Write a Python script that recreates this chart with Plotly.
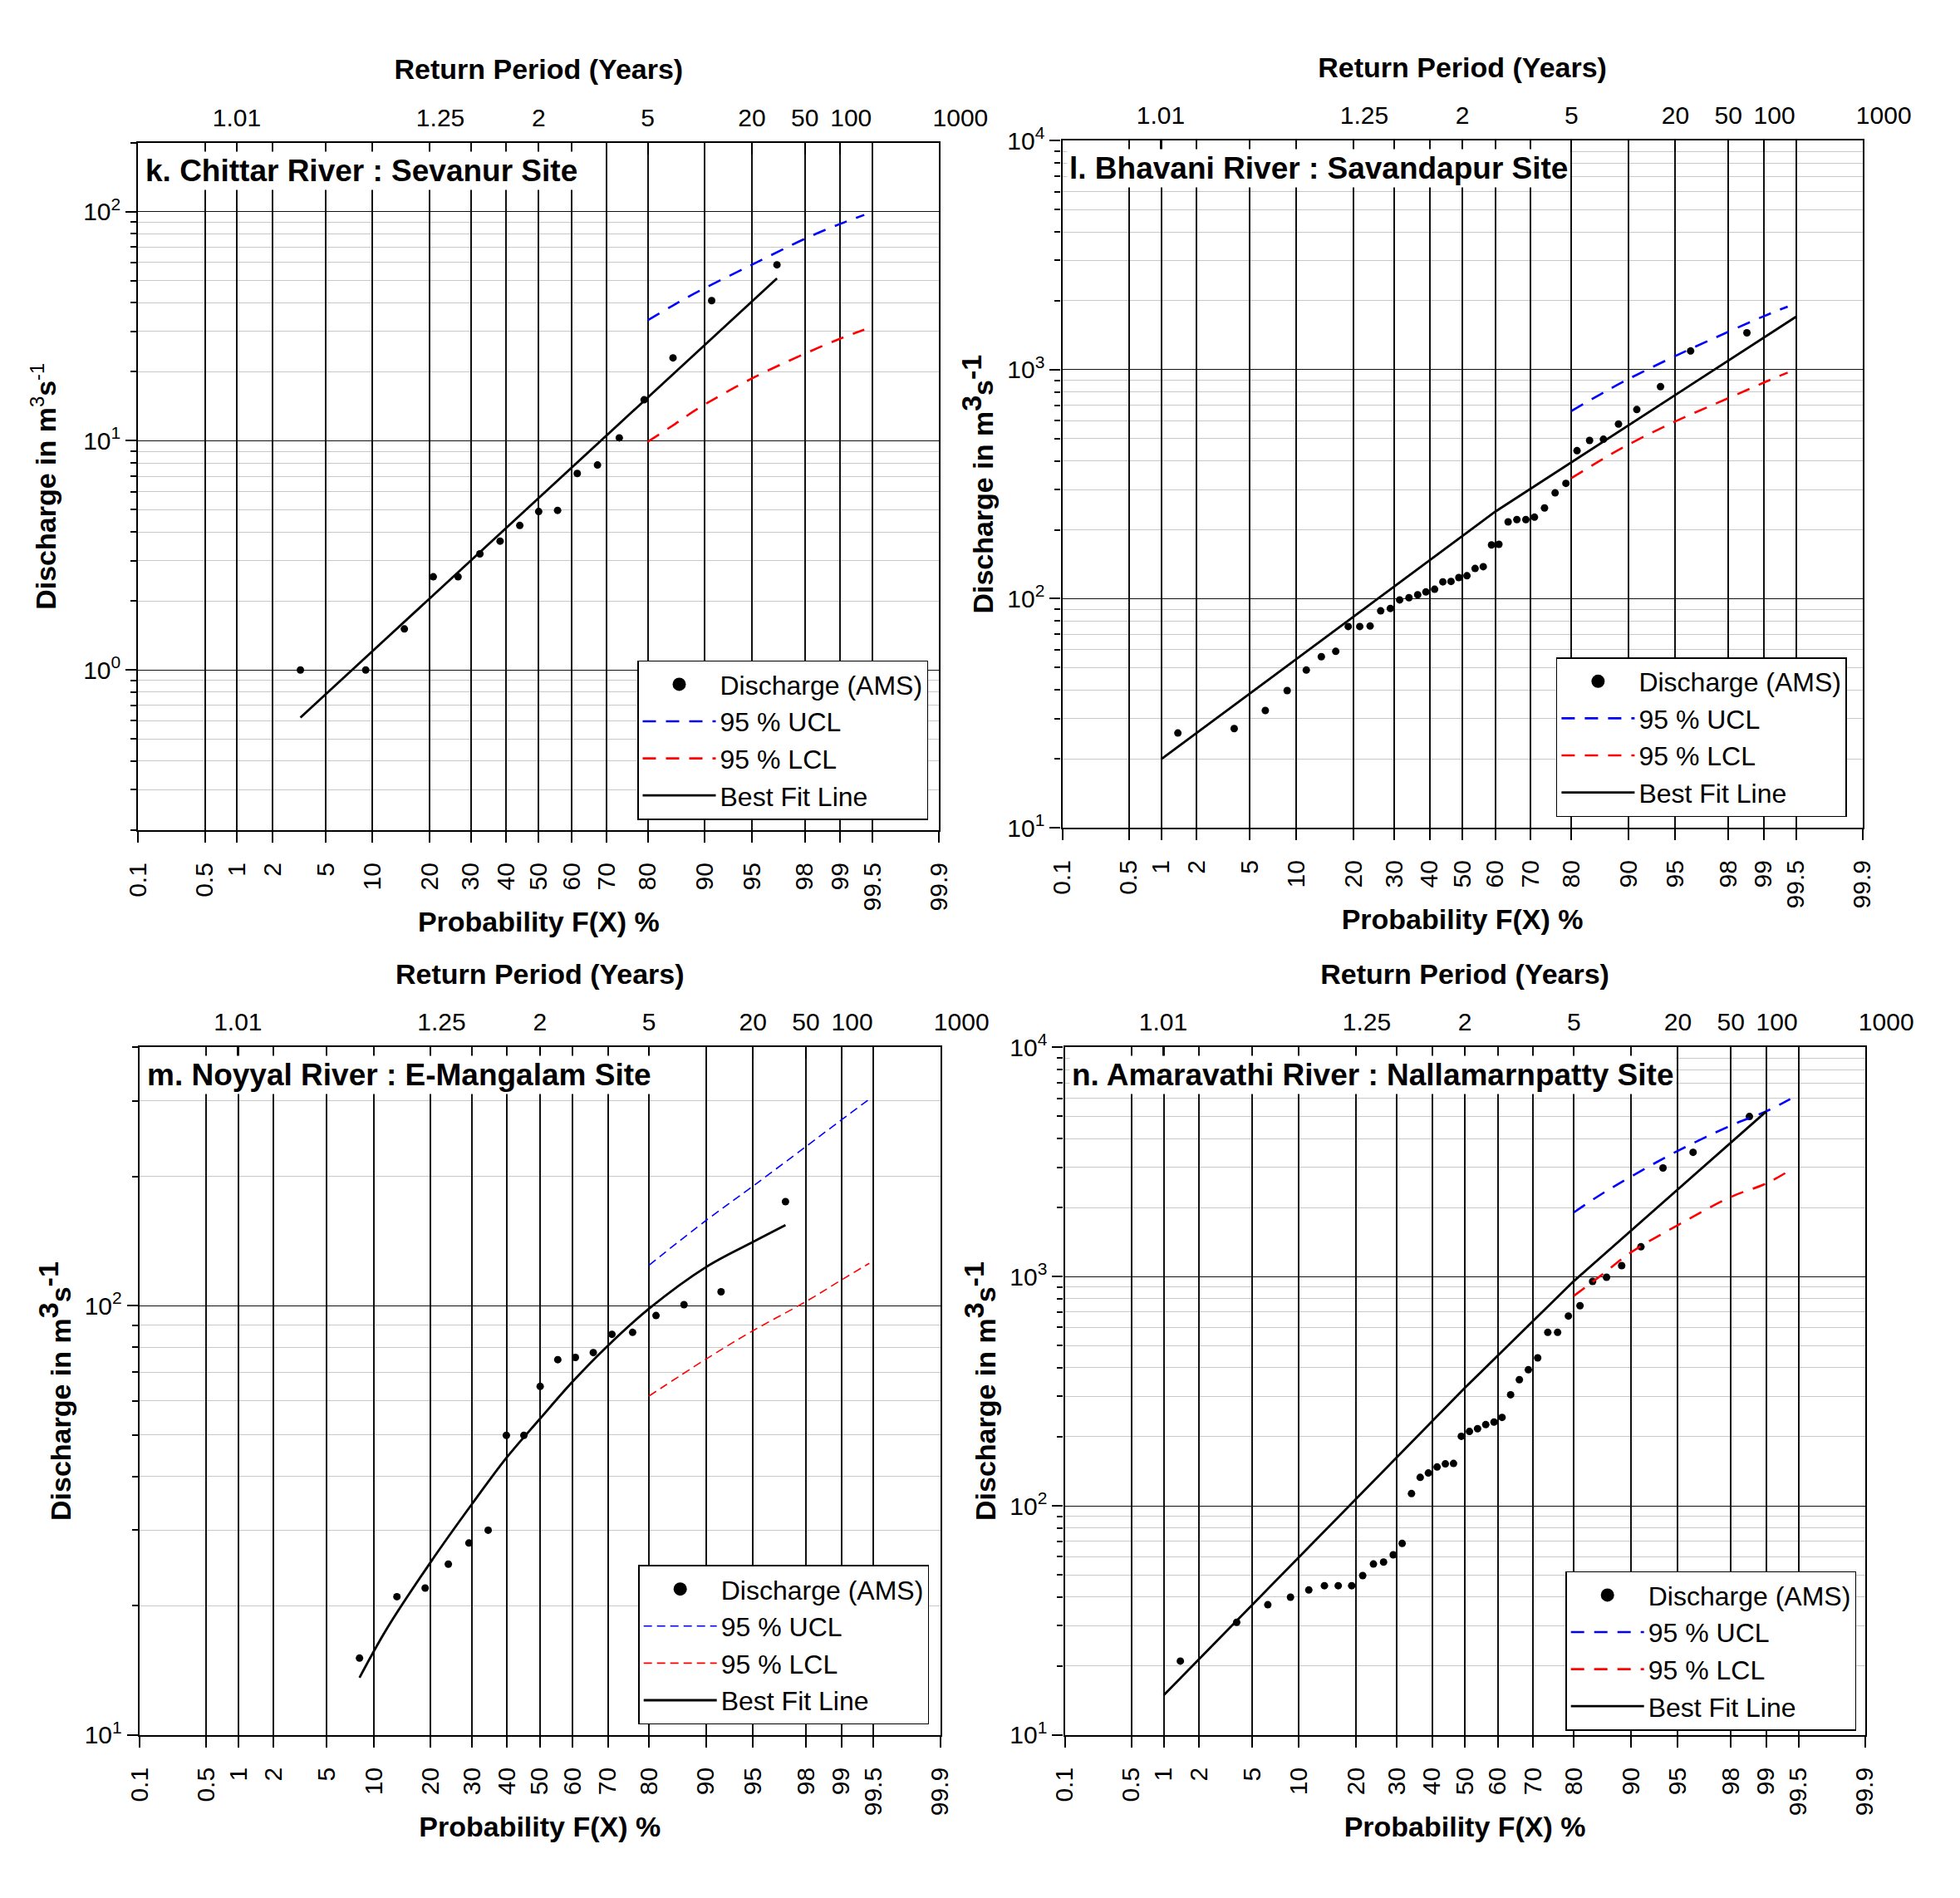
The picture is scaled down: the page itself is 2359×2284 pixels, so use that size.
import plotly.graph_objects as go
from statistics import NormalDist
import math

_nd = NormalDist()


def zq(p):
    """normal-probability-paper position of a non-exceedance probability in %"""
    return _nd.inv_cdf(p / 100.0)


FONT = "Arial, 'Liberation Sans', sans-serif"
W, H = 2359, 2284
OFF = 8                      # default page margin of the html body
FW, FH = W - 2 * OFF, H - 2 * OFF

# ---------------- tick labels ----------------
PROB_TICKS = [0.1, 0.5, 1, 2, 5, 10, 20, 30, 40, 50, 60, 70, 80, 90, 95, 98, 99, 99.5, 99.9]
PROB_LABELS = ["0.1", "0.5", "1", "2", "5", "10", "20", "30", "40", "50", "60", "70",
               "80", "90", "95", "98", "99", "99.5", "99.9"]
# return period (years) ticks: labels drawn centred on their tick ...
RP_TICKS_A = [1.01, 2, 5, 20, 50]
RP_LABELS_A = ["1.01", "2", "5", "20", "50"]
# ... and labels drawn slightly to the right of their tick, as in the original
RP_TICKS_B = [1.25, 100, 1000]
NB = "\u00a0"
RP_LABELS_B = ["1.25", "100", NB * 3 + "1000"]

# ---------------- k. Chittar River : Sevanur Site ----------------
k_F = [3.3, 9.1, 15.0, 20.8, 26.7, 32.5, 38.3, 44.2, 50.0, 55.8, 61.7, 67.5, 73.3, 79.2, 85.0, 90.9, 96.7]
k_Q = [1.0, 1.0, 1.51, 2.55, 2.55, 3.21, 3.65, 4.27, 4.91, 4.97, 7.2, 7.84, 10.3, 15.1, 23.0, 40.9, 58.6]
k_fit_F = [3.3, 96.7]
k_fit_Q = [0.62, 51.1]
k_ucl_F = [80, 84.4, 89, 95, 98, 99, 99.4]
k_ucl_Q = [33.6, 38.2, 44.7, 58.6, 76.1, 88.4, 96.7]
k_lcl_F = [80, 85.4, 89, 95, 98, 99, 99.4]
k_lcl_Q = [9.9, 11.85, 13.8, 18.7, 24.0, 27.9, 30.5]

# ---------------- l. Bhavani River : Savandapur Site ----------------
l_F = [1.4, 3.9, 6.4, 8.8, 11.4, 13.8, 16.4, 18.9, 21.4, 23.8, 26.4, 28.9, 31.4, 34.0, 36.5,
       38.9, 41.5, 44.0, 46.5, 48.9, 51.4, 53.9, 56.4, 58.9, 61.1, 63.8, 66.3, 68.8, 71.1, 73.7,
       76.3, 78.8, 81.2, 83.7, 86.2, 88.6, 91.1, 93.7, 96.1, 98.6]
l_Q = [25.9, 27.1, 32.5, 39.7, 48.8, 55.8, 58.9, 75.6, 75.6, 76.0, 88.5, 90.7, 98.8, 101, 104,
       107, 110, 118.5, 119, 123.7, 126, 135.5, 138, 171.8, 172.8, 216.5, 221.6, 221.6, 227, 249,
       290, 319, 443, 491, 497, 579, 670, 844, 1208, 1449]
l_fit_F = [1.0, 60, 99.5]
l_fit_Q = [19.9, 240, 1702]
l_ucl_F = [80, 89, 95, 98, 99, 99.4]
l_ucl_Q = [660, 877, 1148, 1465, 1712, 1887]
l_lcl_F = [80, 89, 95, 98, 99, 99.4]
l_lcl_Q = [336, 453, 595, 751, 878, 972]

# ---------------- m. Noyyal River : E-Mangalam Site ----------------
m_F = [8.2, 13.5, 18.8, 24.0, 29.2, 34.5, 39.8, 45.1, 50.1, 55.5, 60.8, 66.0, 71.1, 76.3, 81.5,
       86.7, 91.9, 97.1]
m_Q = [15.1, 21.0, 22.0, 25.0, 28.0, 30.0, 49.9, 49.9, 64.9, 74.9, 75.8, 77.8, 85.8, 86.7, 94.9,
       100.6, 107.8, 174.9]
m_fit_F = [8.2, 11.9, 20, 30, 40, 50, 60, 70, 80, 90, 95, 97.1]
m_fit_Q = [13.6, 17.7, 25.3, 34.5, 44.4, 54.5, 66.6, 80.7, 98.4, 123, 140.8, 154.1]
m_ucl_F = [80, 90, 95, 98, 99, 99.45]
m_ucl_Q = [124.3, 158, 190, 235, 271, 303]
m_lcl_F = [80, 90, 95, 98, 99, 99.45]
m_lcl_Q = [61.6, 75.1, 87.5, 102.3, 114.8, 125.6]

# ---------------- n. Amaravathi River : Nallamarnpatty Site ----------------
n_F = [1.4, 3.9, 6.4, 8.9, 11.4, 13.9, 16.4, 19.1, 21.5, 24.0, 26.5, 29.0, 31.4, 34.0, 36.5,
       38.9, 41.5, 44.0, 46.5, 48.9, 51.4, 53.9, 56.4, 58.9, 61.3, 63.8, 66.3, 68.8, 71.3, 73.9,
       76.3, 78.8, 81.3, 83.8, 86.3, 88.7, 91.3, 93.7, 96.1, 98.6]
n_Q = [21.0, 31.0, 37.0, 39.9, 42.9, 44.8, 44.8, 44.8, 49.6, 55.7, 56.8, 61.1, 68.5, 113, 133,
       139, 147.6, 152.3, 153, 201, 211, 217, 226, 232, 243, 305, 355, 392, 442, 571,
       571, 673, 746, 953, 993, 1116, 1349, 2978, 3486, 4993]
n_fit_F = [1.0, 50, 80, 99]
n_fit_Q = [14.9, 327, 956, 5246]
n_ucl_F = [80, 85.3, 90, 95, 98, 99, 99.4]
n_ucl_Q = [1905, 2280, 2728, 3537, 4560, 5261, 5948]
n_lcl_F = [80, 85.3, 90, 95, 98, 99, 99.4]
n_lcl_Q = [824, 1009, 1274, 1677, 2226, 2547, 2913]

TITLES = ["k. Chittar River : Sevanur Site",
          "l. Bhavani River : Savandapur Site",
          "m. Noyyal River : E-Mangalam Site",
          "n. Amaravathi River : Nallamarnpatty Site"]

SMALL_SUP = ("Discharge in m<sup><span style='font-weight:normal'>3</span></sup>"
             "s<sup><span style='font-weight:normal'>-1</span></sup>")
BIG_SUP = ("Discharge in m<sup><span style='font-size:34px'>3</span></sup>"
           "s<sup><span style='font-size:34px'>-1</span></sup>")

panels = [
    dict(F=k_F, Q=k_Q, fitF=k_fit_F, fitQ=k_fit_Q, uF=k_ucl_F, uQ=k_ucl_Q, lF=k_lcl_F, lQ=k_lcl_Q,
         yr=(0.2, 200), dec=[1, 10, 100], ytitle=SMALL_SUP, ystand=22, fitshape="linear", thin=False,
         xd=(166.3, 1130.4), yd=(171.6, 999.0), leg=(1117, 986.6)),
    dict(F=l_F, Q=l_Q, fitF=l_fit_F, fitQ=l_fit_Q, uF=l_ucl_F, uQ=l_ucl_Q, lF=l_lcl_F, lQ=l_lcl_Q,
         yr=(10, 10000), dec=[10, 100, 1000, 10000], ytitle=BIG_SUP, ystand=6, fitshape="linear",
         thin=False, xd=(1278.5, 2241.7), yd=(169.4, 996.0), leg=(2222.9, 983.0)),
    dict(F=m_F, Q=m_Q, fitF=m_fit_F, fitQ=m_fit_Q, uF=m_ucl_F, uQ=m_ucl_Q, lF=m_lcl_F, lQ=m_lcl_Q,
         yr=(10, 400), dec=[10, 100], ytitle=BIG_SUP, ystand=6, fitshape="spline", thin=True,
         xd=(167.8, 1131.7), yd=(1260.4, 2087.8), leg=(1118.2, 2075.4)),
    dict(F=n_F, Q=n_Q, fitF=n_fit_F, fitQ=n_fit_Q, uF=n_ucl_F, uQ=n_ucl_Q, lF=n_lcl_F, lQ=n_lcl_Q,
         yr=(10, 10000), dec=[10, 100, 1000, 10000], ytitle=BIG_SUP, ystand=6, fitshape="linear",
         thin=False, xd=(1281.5, 2244.7), yd=(1260.4, 2087.8), leg=(2234.2, 2082.6)),
]


def px_x(v):
    return (v - OFF) / FW


def px_y(v):
    return 1 - (v - OFF) / FH


fig = go.Figure()
layout = dict(
    width=FW, height=FH, autosize=False,
    margin=dict(l=0, r=0, t=0, b=0, pad=0),
    paper_bgcolor="white", plot_bgcolor="white",
    font=dict(family=FONT, size=30, color="black"),
    showlegend=True,
    annotations=[],
)

xr = [zq(0.1), zq(99.9)]
TICKFONT = dict(family=FONT, size=30, color="black")

for i, p in enumerate(panels, start=1):
    sfx = "" if i == 1 else str(i)
    xname, yname = "x" + sfx, "y" + sfx
    tname = "x" + str(i + 4)
    t2name = "x" + str(i + 8)
    legname = "legend" + sfx

    # data points
    fig.add_trace(go.Scatter(x=[zq(f) for f in p["F"]], y=p["Q"], mode="markers",
                             marker=dict(size=9, color="black"), showlegend=False,
                             xaxis=xname, yaxis=yname, name="Discharge (AMS)"))
    # legend proxy with larger symbol
    fig.add_trace(go.Scatter(x=[None], y=[None], mode="markers",
                             marker=dict(size=20, color="black"), name="Discharge (AMS)",
                             legend=legname, xaxis=xname, yaxis=yname))
    dw = 1.6 if p["thin"] else 2.6
    dpat = "10px,6px" if p["thin"] else "16px,12px"
    fig.add_trace(go.Scatter(x=[zq(f) for f in p["uF"]], y=p["uQ"], mode="lines",
                             line=dict(color="#0000ff", width=dw, dash=dpat, shape="spline"),
                             name="95 % UCL", legend=legname, xaxis=xname, yaxis=yname))
    fig.add_trace(go.Scatter(x=[zq(f) for f in p["lF"]], y=p["lQ"], mode="lines",
                             line=dict(color="#ff0000", width=dw, dash=dpat, shape="spline"),
                             name="95 % LCL", legend=legname, xaxis=xname, yaxis=yname))
    fig.add_trace(go.Scatter(x=[zq(f) for f in p["fitF"]], y=p["fitQ"], mode="lines",
                             line=dict(color="black", width=2.8, shape=p["fitshape"]),
                             name="Best Fit Line", legend=legname, xaxis=xname, yaxis=yname))
    # dummy traces so the return-period axes are drawn
    for ax in (tname, t2name):
        fig.add_trace(go.Scatter(x=[None], y=[None], xaxis=ax, yaxis=yname,
                                 showlegend=False, hoverinfo="skip"))

    xd = [px_x(p["xd"][0]), px_x(p["xd"][1])]
    yd = [px_y(p["yd"][1]), px_y(p["yd"][0])]

    layout["xaxis" + sfx] = dict(
        domain=xd, anchor=yname, range=xr, tickmode="array", automargin=False,
        tickvals=[zq(v) for v in PROB_TICKS], ticktext=PROB_LABELS, tickangle=-90,
        ticks="outside", ticklen=13, tickwidth=2, tickcolor="black",
        ticklabelstandoff=12,
        showgrid=True, gridcolor="#111111", gridwidth=1.5,
        showline=True, linewidth=2.2, linecolor="black", mirror=True, zeroline=False,
        tickfont=TICKFONT,
        title=dict(text="Probability F(X) %", standoff=2,
                   font=dict(family=FONT, size=34, color="black", weight="bold")),
    )
    layout["xaxis" + str(i + 4)] = dict(
        domain=xd, anchor=yname, overlaying=xname, side="top", range=xr, automargin=False,
        tickmode="array", tickvals=[zq(100.0 * (1 - 1.0 / t)) for t in RP_TICKS_A],
        ticktext=RP_LABELS_A, tickangle=0, ticks="inside", ticklen=14, tickwidth=1.5,
        tickcolor="black", ticklabelstandoff=13,
        showgrid=False, showline=False, zeroline=False,
        tickfont=TICKFONT,
        title=dict(text="Return Period (Years)", standoff=18,
                   font=dict(family=FONT, size=34, color="black", weight="bold")),
    )
    layout["xaxis" + str(i + 8)] = dict(
        domain=xd, anchor=yname, overlaying=xname, side="top", range=xr, automargin=False,
        tickmode="array", tickvals=[zq(100.0 * (1 - 1.0 / t)) for t in RP_TICKS_B],
        ticktext=RP_LABELS_B, tickangle=0, ticks="inside", ticklen=14, tickwidth=1.5,
        tickcolor="black", ticklabelstandoff=13, ticklabelshift=13,
        showgrid=False, showline=False, zeroline=False,
        tickfont=TICKFONT,
    )
    lo, hi = p["yr"]
    minor_vals = [d * m for d in [0.1, 1, 10, 100, 1000] for m in range(2, 10)
                  if lo <= d * m <= hi]
    layout["yaxis" + sfx] = dict(
        domain=yd, anchor=xname, type="log", range=[math.log10(lo), math.log10(hi)],
        automargin=False,
        tickmode="array", tickvals=p["dec"],
        ticktext=["10<sup>%d</sup>" % round(math.log10(d)) for d in p["dec"]],
        ticks="outside", ticklen=13, tickwidth=2, tickcolor="black",
        showgrid=True, gridcolor="#111111", gridwidth=1.4,
        minor=dict(tickmode="array", tickvals=minor_vals, ticks="outside", ticklen=7,
                   tickwidth=1.5, tickcolor="black", showgrid=True,
                   gridcolor="#c8c8c8", gridwidth=1.2),
        showline=True, linewidth=2.2, linecolor="black", mirror=True, zeroline=False,
        tickfont=TICKFONT,
        title=dict(text=p["ytitle"], standoff=p["ystand"],
                   font=dict(family=FONT, size=34, color="black", weight="bold")),
    )
    layout[legname] = dict(
        x=px_x(p["leg"][0]), y=px_y(p["leg"][1]), xanchor="right", yanchor="bottom",
        xref="paper", yref="paper",
        bgcolor="white", bordercolor="black", borderwidth=1.5,
        font=dict(family=FONT, size=32, color="black"),
        itemwidth=88, traceorder="normal", tracegroupgap=0,
    )
    layout["annotations"].append(dict(
        xref=xname + " domain", yref=yname + " domain", x=0.006, y=0.988,
        xanchor="left", yanchor="top", showarrow=False, text=TITLES[i - 1],
        bgcolor="white", borderpad=2,
        font=dict(family=FONT, size=37, color="black", weight="bold"),
    ))

fig.update_layout(**layout)
fig.write_html("out.html")
